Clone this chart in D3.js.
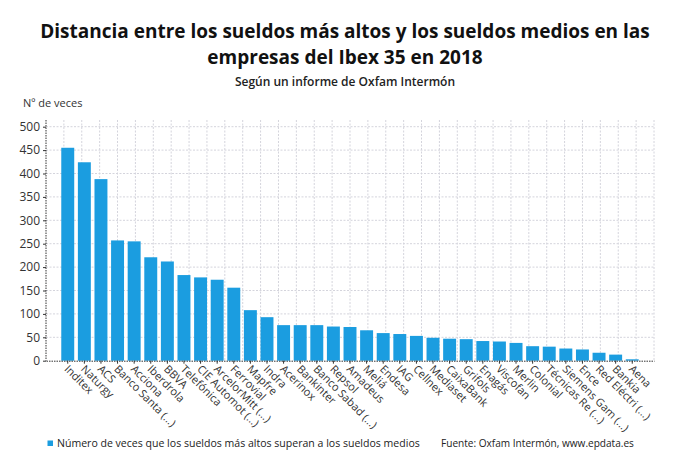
<!DOCTYPE html>
<html><head><meta charset="utf-8">
<script src="https://cdn.jsdelivr.net/npm/d3@7"></script>
<style>
body{margin:0;background:#fff;}
text{font-family:"Open Sans",sans-serif;}
</style></head>
<body><svg id="c" width="690" height="465"></svg>
<script>
const categories = ["Inditex","Naturgy","ACS","Banco Santa (...)","Acciona","Iberdrola","BBVA","Telefónica","CIE Automot (...)","ArcelorMitt (...)","Ferrovial","Mapfre","Indra","Acerinox","Bankinter","Banco Sabad (...)","Repsol","Amadeus","Meliá","Endesa","IAG","Cellnex","Mediaset","CaixaBank","Grifols","Enagás","Viscofan","Merlin","Colonial","Técnicas Re (...)","Siemens Gam (...)","Ence","Red Eléctri (...)","Bankia","Aena"];
const values = [455,424,388,257,255,221,212,183,178,173,156,108,93,76,76,76,73,72,65,59,57,53,49,47,46,42,41,38,31,30,26,24,17,13,3];
const yTicks = [0,50,100,150,200,250,300,350,400,450,500];
const title1 = "Distancia entre los sueldos más altos y los sueldos medios en las";
const title2 = "empresas del Ibex 35 en 2018";
const subtitle = "Según un informe de Oxfam Intermón";
const yTitle = "Nº de veces";
const legendLabel = "Número de veces que los sueldos más altos superan a los sueldos medios";
const source = "Fuente: Oxfam Intermón, www.epdata.es";

const svg = d3.select("#c");
const L = 46, R = 654, T = 120, B = 360.7;
const color = "#1b9de0";

const x = d3.scaleBand().domain(categories).range([L, R]).paddingInner(0.22).paddingOuter(0.92);
const y = d3.scaleLinear().domain([0, 500]).range([B, 126.7]);
const gx = d3.scaleLinear().domain([0, 34]).range([L, R]);

// grid
const grid = svg.append("g");
grid.selectAll("line.h").data(yTicks.filter(d=>d>0)).join("line")
  .attr("x1", L).attr("x2", R).attr("y1", d=>y(d)).attr("y2", d=>y(d))
  .attr("stroke", "#d4d4dc").attr("stroke-dasharray", "2,1.5");
grid.selectAll("line.v").data(d3.range(1, 35)).join("line")
  .attr("x1", d=>gx(d)).attr("x2", d=>gx(d)).attr("y1", T).attr("y2", B)
  .attr("stroke", "#d4d4dc").attr("stroke-dasharray", "2,1.5");

// bars
svg.append("g").selectAll("rect").data(values).join("rect")
  .attr("x", (d,i)=>x(categories[i])).attr("width", x.bandwidth())
  .attr("y", d=>y(d)).attr("height", d=>B - y(d)).attr("fill", color);

// y axis
const ya = svg.append("g").attr("transform", `translate(${L},0)`)
  .call(d3.axisLeft(y).tickValues(yTicks).tickSize(3).tickPadding(3));
ya.select(".domain").attr("stroke", "#333").attr("stroke-dasharray", "1.5,1").attr("d", `M0,${T}V${B}`);
ya.selectAll(".tick line").attr("stroke", "#333");
ya.selectAll(".tick text").attr("font-size", 12).attr("fill", "#333").attr("font-family", "Open Sans");

// x axis
const xa = svg.append("g").attr("transform", `translate(0,${B})`)
  .call(d3.axisBottom(x).tickSize(3).tickSizeOuter(0));
xa.select(".domain").attr("stroke", "#333").attr("stroke-dasharray", "1.5,1");
xa.selectAll(".tick line").attr("stroke", "#333");
xa.selectAll(".tick text")
  .attr("font-size", 11).attr("fill", "#333").attr("font-family", "Open Sans")
  .attr("text-anchor", "start").attr("dy", null).attr("y", null)
  .attr("transform", "translate(-4,9) rotate(45)");

// titles
svg.append("text").attr("x", 345).attr("y", 38).attr("text-anchor", "middle")
  .attr("font-size", 19).attr("font-weight", 700).attr("fill", "#111").text(title1);
svg.append("text").attr("x", 345).attr("y", 64).attr("text-anchor", "middle")
  .attr("font-size", 19).attr("font-weight", 700).attr("fill", "#111").text(title2);
svg.append("text").attr("x", 345).attr("y", 86).attr("text-anchor", "middle")
  .attr("font-size", 12).attr("font-weight", 600).attr("fill", "#222").text(subtitle);
svg.append("text").attr("x", 23).attr("y", 107)
  .attr("font-size", 11).attr("fill", "#333").text(yTitle);

// legend: fit font size to the reference widths
function fitText(sel, target, base) {
  const w = sel.node().getComputedTextLength();
  sel.attr("font-size", base * target / w);
}
svg.append("rect").attr("x", 47.5).attr("y", 440.5).attr("width", 5.5).attr("height", 5.5).attr("fill", color);
const lt = svg.append("text").attr("x", 57).attr("y", 447).attr("font-size", 11).attr("fill", "#222").text(legendLabel);
fitText(lt, 363, 11);
const st = svg.append("text").attr("x", 441).attr("y", 447).attr("font-size", 11).attr("fill", "#222").text(source);
fitText(st, 193, 11);
</script></body></html>
